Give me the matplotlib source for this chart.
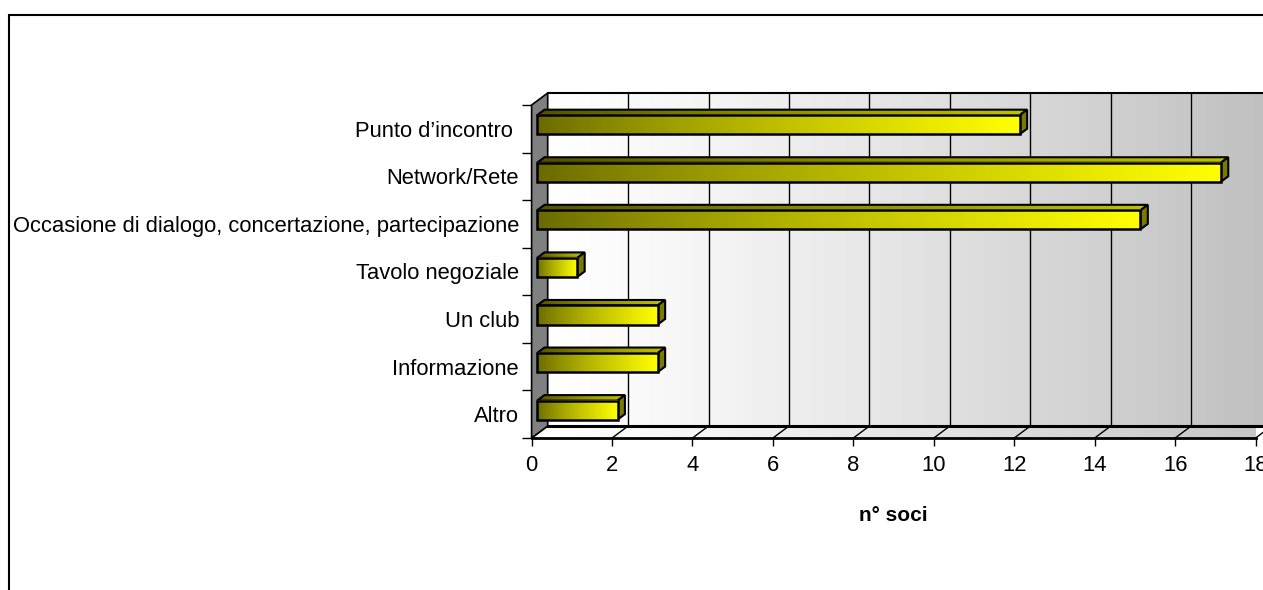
import matplotlib
matplotlib.use("Agg")
import matplotlib.pyplot as plt
import numpy as np
from matplotlib.patches import Polygon, Rectangle
from matplotlib.colors import to_rgb

plt.rcParams['font.family'] = ['Liberation Sans', 'DejaVu Sans']

# dati (dal basso verso l'alto)
categorie = ["Altro", "Informazione", "Un club", "Tavolo negoziale",
             "Occasione di dialogo, concertazione, partecipazione",
             "Network/Rete", "Punto d\u2019incontro "]
valori = [2, 3, 3, 1, 15, 17, 12]
xticks = list(range(0, 19, 2))

W, H = 1263, 590
fig = plt.figure(figsize=(W / 100, H / 100), dpi=100)

# cornice del grafico
fig.patches.append(Rectangle((9 / W, -0.1), 1.1, 1.1 - 15 / H,
                             transform=fig.transFigure, fill=False,
                             ec='black', lw=1.5, zorder=0))

x0, x1 = 531.6, 1255.6
yb, yt = 438, 105
ax = fig.add_axes([x0 / W, 1 - yb / H, (x1 - x0) / W, (yb - yt) / H])
ax.set_facecolor('none')

n = len(categorie)
xmax = 18
dx, dy = 0.40, 0.252      # profondita' 3D in unita' dati
f0, f1 = 0.34, 0.80       # posizione della barra in profondita'
h = 0.40                  # altezza della barra
fs = 15.8


def gradiente(ext, c0, c1, z, clip=None, gamma=1.0):
    c0, c1 = np.array(to_rgb(c0)), np.array(to_rgb(c1))
    t = (np.linspace(0, 1, 256) ** gamma)[None, :, None]
    img = c0 + (c1 - c0) * t
    im = ax.imshow(img, extent=ext, aspect='auto', interpolation='bilinear',
                   zorder=z, origin='lower')
    im.set_clip_box(None)
    if clip is not None:
        im.set_clip_path(clip)
    else:
        im.set_clip_on(False)
    return im


ylo, yhi = -0.5, n - 0.5

# parete di fondo
gradiente([dx, xmax + dx + 0.5, ylo + dy, yhi + dy], '#ffffff', '#bdbdbd', 1,
          gamma=1.2)
for v in xticks[1:]:
    ax.plot([v + dx, v + dx], [ylo + dy, yhi + dy], color='black', lw=1,
            zorder=2, clip_on=False)
ax.plot([dx, xmax + dx + 0.5], [yhi + dy, yhi + dy], color='black', lw=1.5,
        zorder=2, clip_on=False)

# pavimento
floor = Polygon([(0, ylo), (xmax, ylo), (xmax + dx, ylo + dy), (dx, ylo + dy)],
                closed=True, fc='none', ec='none', transform=ax.transData,
                clip_on=False)
ax.add_patch(floor)
gradiente([0, xmax + dx, ylo, ylo + dy], '#ffffff', '#c4c4c4', 1, clip=floor,
          gamma=1.2)
for v in xticks:
    ax.plot([v, v + dx], [ylo, ylo + dy], color='black', lw=1, zorder=2,
            clip_on=False)
ax.plot([dx, xmax + dx + 0.5], [ylo + dy, ylo + dy], color='black', lw=2.2,
        zorder=2, clip_on=False)
ax.plot([0, xmax], [ylo, ylo], color='black', lw=2, zorder=2, clip_on=False)

# parete laterale
ax.add_patch(Polygon([(0, ylo), (dx, ylo + dy), (dx, yhi + dy), (0, yhi)],
                     closed=True, fc='#808080', ec='black', lw=1.2, zorder=2,
                     clip_on=False))

# barre 3D
for i, v in enumerate(valori):
    xa = f0 * dx
    ya = i - h / 2 + f0 * dy
    ddx, ddy = (f1 - f0) * dx, (f1 - f0) * dy
    top = Polygon([(xa, ya + h), (xa + v, ya + h), (xa + v + ddx, ya + h + ddy),
                   (xa + ddx, ya + h + ddy)], closed=True, fc='none',
                  ec='black', lw=1.5, zorder=5, transform=ax.transData,
                  clip_on=False)
    ax.add_patch(top)
    gradiente([xa, xa + v + ddx, ya + h, ya + h + ddy], '#4e4e00', '#c0c000',
              4, clip=top, gamma=0.8)
    ax.add_patch(Polygon([(xa + v, ya), (xa + v, ya + h),
                          (xa + v + ddx, ya + h + ddy), (xa + v + ddx, ya + ddy)],
                         closed=True, fc='#7a7a00', ec='black', lw=1.5,
                         zorder=5, clip_on=False))
    gradiente([xa, xa + v, ya, ya + h], '#686800', '#ffff00', 6, gamma=0.8)
    ax.add_patch(Rectangle((xa, ya), v, h, fill=False, ec='black', lw=1.8,
                           zorder=7, clip_on=False))

ax.set_xlim(0, xmax)
ax.set_ylim(ylo, yhi)
for s in ['top', 'right', 'bottom', 'left']:
    ax.spines[s].set_visible(False)

ax.set_xticks(xticks)
ax.tick_params(axis='x', direction='out', length=6, width=1, pad=6,
               labelsize=fs)
ax.set_yticks(range(n))
ax.set_yticklabels(categorie)
ax.set_yticks(np.arange(-0.5, n, 1), minor=True)
ax.tick_params(axis='y', which='major', length=0, pad=9, labelsize=fs)
ax.tick_params(axis='y', which='minor', direction='out', length=7, width=1)
ax.set_xlabel('n\u00b0 soci', fontsize=15, fontweight='bold', labelpad=22)

fig.savefig('out.png', dpi=100)
